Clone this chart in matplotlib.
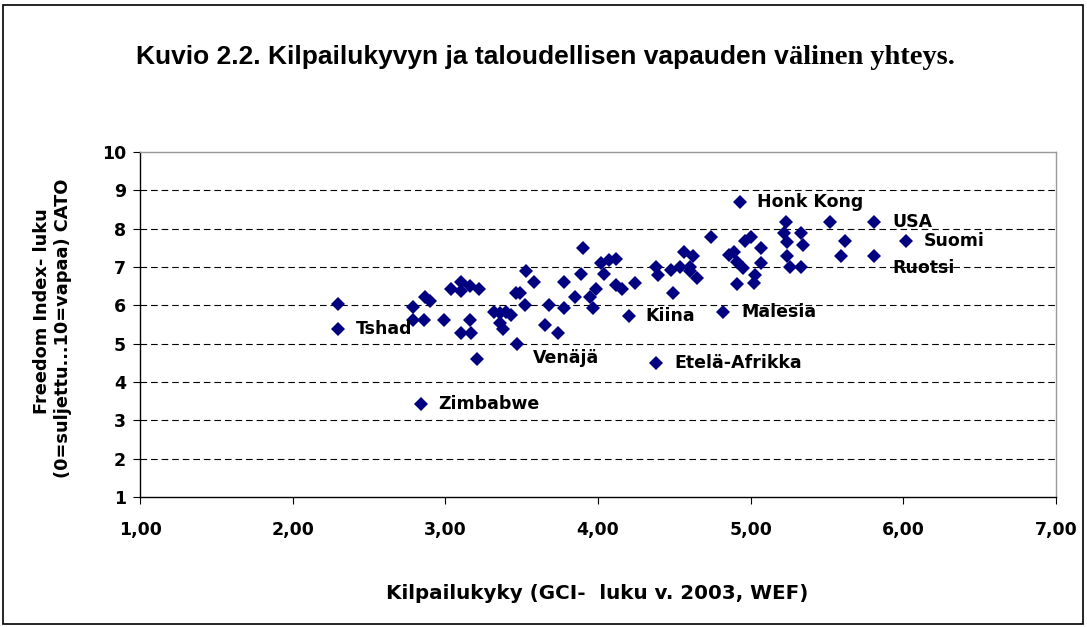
import matplotlib
matplotlib.use("Agg")
import matplotlib.pyplot as plt
from matplotlib.patches import Rectangle
from matplotlib.ticker import FuncFormatter

plt.rcParams['font.family'] = ['DejaVu Sans']
plt.rcParams['font.weight'] = 'bold'

# GCI (x) vs. Freedom Index (y)
gci = [2.30, 2.30, 2.79, 2.79, 2.86, 2.87, 2.90, 2.99, 3.04, 3.10,
       3.10, 3.16, 3.22, 3.16, 3.10, 3.17, 3.21, 3.32, 3.36, 3.40,
       3.43, 3.36, 3.38, 3.47, 3.53, 3.58, 3.46, 3.49, 3.52, 3.65,
       3.74, 3.68, 3.78, 3.78, 3.90, 3.89, 3.85, 3.95, 3.99, 3.97,
       4.02, 4.07, 4.12, 4.04, 4.12, 4.16, 4.24, 4.20, 4.38, 4.38,
       4.39, 4.48, 4.49, 4.54, 4.56, 4.62, 4.60, 4.60, 4.65, 4.74,
       4.93, 4.82, 4.86, 4.89, 4.91, 4.95, 4.91, 4.96, 5.00, 5.07,
       5.07, 5.03, 5.02, 5.23, 5.22, 5.24, 5.24, 5.26, 5.33, 5.34,
       5.33, 5.52, 5.81, 5.62, 6.02, 5.59, 5.81, 2.84]
freedom = [6.03, 5.38, 5.95, 5.62, 5.62, 6.23, 6.12, 5.62, 6.42, 6.62,
           6.38, 6.51, 6.42, 5.62, 5.27, 5.27, 4.59, 5.83, 5.80, 5.83,
           5.75, 5.53, 5.37, 5.00, 6.90, 6.60, 6.31, 6.31, 6.01, 5.49,
           5.27, 6.01, 5.92, 6.60, 7.49, 6.81, 6.23, 6.23, 6.42, 5.92,
           7.11, 7.18, 7.20, 6.82, 6.53, 6.42, 6.59, 5.72, 4.50, 7.01,
           6.79, 6.92, 6.31, 6.99, 7.40, 7.29, 6.99, 6.90, 6.70, 7.79,
           8.70, 5.83, 7.31, 7.40, 7.14, 6.97, 6.56, 7.69, 7.79, 7.49,
           7.10, 6.79, 6.59, 8.18, 7.88, 7.66, 7.29, 6.99, 7.88, 7.57,
           6.99, 8.18, 8.18, 7.69, 7.69, 7.29, 7.29, 3.43]

# labelled countries: name, x, y, pixel offset of the label
labels = [
    ("Honk Kong", 4.93, 8.70, (17, 0)),
    ("USA", 5.81, 8.18, (18, 0)),
    ("Suomi", 6.02, 7.69, (17, 0)),
    ("Ruotsi", 5.81, 7.29, (18, -12)),
    ("Malesia", 4.82, 5.83, (18, 0)),
    ("Kiina", 4.20, 5.72, (17, 0)),
    ("Etelä-Afrikka", 4.38, 4.50, (18, 0)),
    ("Venäjä", 3.47, 5.00, (16, -14)),
    ("Tshad", 2.30, 5.38, (17, 0)),
    ("Zimbabwe", 2.84, 3.43, (17, 0)),
]

x_ticks = [1, 2, 3, 4, 5, 6, 7]
y_ticks = [1, 2, 3, 4, 5, 6, 7, 8, 9, 10]

fig = plt.figure(figsize=(10.87, 6.27), dpi=100)
ax = fig.add_axes([0.1288, 0.2073, 0.8427, 0.5503])

ax.plot(gci, freedom, linestyle='none', marker='D', markersize=7.4,
        color='#000080', markeredgewidth=0)

for name, lx, ly, off in labels:
    ax.annotate(name, (lx, ly), xytext=off, textcoords='offset pixels',
                ha='left', va='center', fontsize=12.5, fontweight='bold')

ax.set_xlim(1, 7)
ax.set_ylim(1, 10)
ax.set_xticks(x_ticks)
ax.set_yticks(y_ticks)
ax.xaxis.set_major_formatter(FuncFormatter(lambda v, p: f"{v:.2f}".replace('.', ',')))
ax.tick_params(axis='both', direction='out', length=5, width=0.8, labelsize=12.5)
ax.tick_params(axis='x', pad=12)
ax.tick_params(axis='y', pad=5)
for lab in ax.get_xticklabels() + ax.get_yticklabels():
    lab.set_fontweight('bold')

for g in y_ticks[1:-1]:
    ax.axhline(g, color='black', linewidth=0.8, dashes=(6, 3.5), zorder=0)

ax.spines['left'].set_color('black')
ax.spines['bottom'].set_color('black')
ax.spines['top'].set_color('#999999')
ax.spines['right'].set_color('#999999')
for s in ax.spines.values():
    s.set_linewidth(1.0)

# axis titles
fig.text(0.5495, 0.054, "Kilpailukyky (GCI-  luku v. 2003, WEF)", ha='center',
         va='center', fontsize=14.3, fontweight='bold')
fig.text(0.039, 1 - 311 / 627, "Freedom Index- luku", rotation=90,
         ha='center', va='center', fontsize=12.8, fontweight='bold')
fig.text(0.058, 1 - 328 / 627, "(0=suljettu...10=vapaa) CATO", rotation=90,
         ha='center', va='center', fontsize=12.8, fontweight='bold')

# title: first part sans, the tail in a serif face as in the original
fig.text(0.726, 0.898, "Kuvio 2.2. Kilpailukyvyn ja taloudellisen vapauden v",
         ha='right', va='baseline', fontsize=19, fontweight='bold',
         family='Liberation Sans')
fig.text(0.726, 0.898, "älinen yhteys.", ha='left', va='baseline',
         fontsize=20.5, fontweight='bold', family='Liberation Serif')

# outer frame
fig.patches.append(Rectangle((0.003, 0.004), 0.993, 0.988, transform=fig.transFigure,
                             fill=False, edgecolor='black', linewidth=1.2))

fig.savefig("out.png", dpi=100)
